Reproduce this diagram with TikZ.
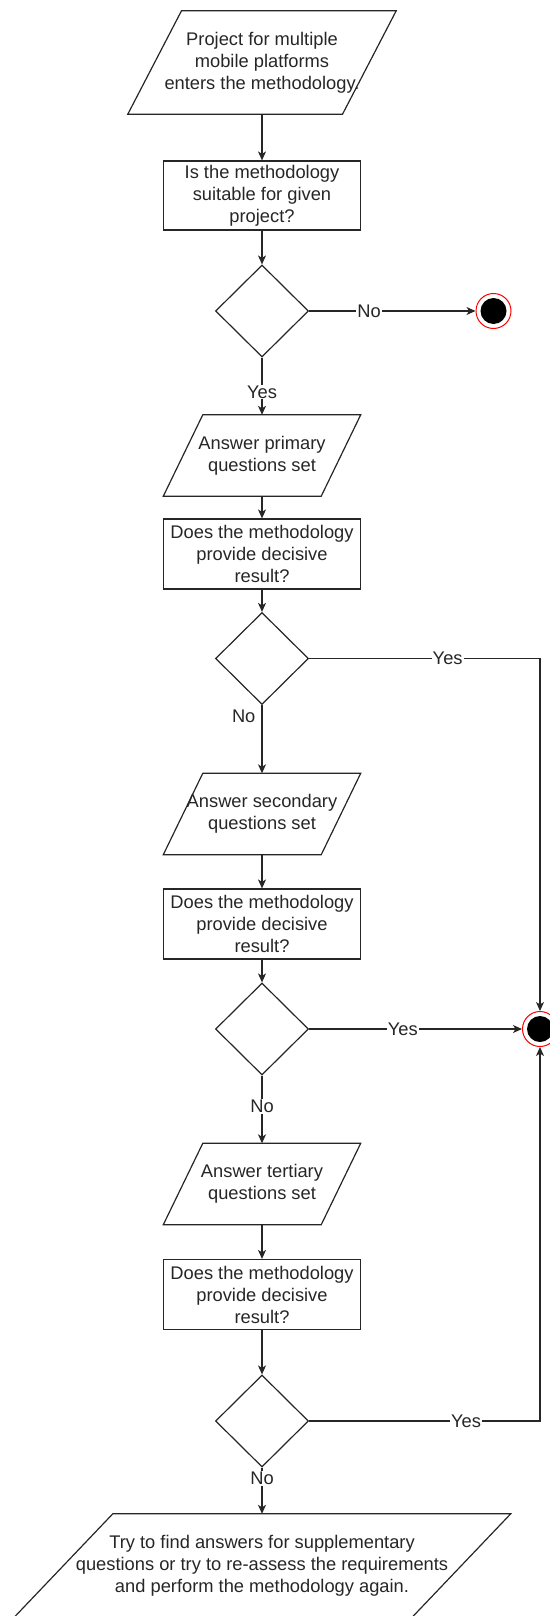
\documentclass[tikz,border=0pt]{standalone}
\usepackage{fontspec}
\setmainfont{Liberation Sans}
\usetikzlibrary{shapes.geometric,arrows.meta,calc}

\begin{document}
\begin{tikzpicture}[x=1pt,y=-1pt,font=\fontsize{18.3}{22}\selectfont]
		\tikzstyle{myline}=[black!85,line width=1.2pt]
		\tikzstyle{myarrow}=[myline,>={Stealth[length=9pt,width=8pt,inset=2.5pt]},->]
		\tikzstyle{io}=[shape=rectangle,inner sep=0pt,align=center,text=black!85]
		\tikzstyle{proc}=[draw,myline,shape=rectangle,minimum width=197pt,minimum height=70pt,inner sep=0pt,align=center]
		\tikzstyle{dec}=[draw,myline,shape=diamond,minimum width=93pt,minimum height=92pt,inner sep=0pt]
		\tikzstyle{endpt}=[draw=red,line width=1pt,fill=white,shape=circle,minimum size=35pt,inner sep=0pt,path picture={\fill[black] (path picture bounding box.center) circle (13pt);}]
		\tikzstyle{lbl}=[fill=white,inner sep=1pt,text=black!85]

		\useasboundingbox (0,0) rectangle (549,1616);

		\node[io,minimum width=268pt,minimum height=103pt] (p1) at (262,62.5) {Project for multiple\\mobile platforms\\enters the methodology.};
		\node[proc,minimum height=69pt] (r1) at (262,195.5) {Is the methodology\\suitable for given\\project?};
		\foreach \y / \z in {311/1,658.5/2,1029/3,1421/4} { \node[dec] (d\z) at (262,\y) {};}
		\foreach \y / \z / \t in {455.5/2/primary,814/3/secondary,1184/4/tertiary} { \node[io,minimum width=197pt,minimum height=81pt] (p\z) at (262,\y) {Answer \t\\questions set};}
		\foreach \y / \z in {554/2,924/3,1294.5/4} { \node[proc] (r\z) at (262,\y) {Does the methodology\\provide decisive\\result?};}
		\node[io,minimum width=497pt,minimum height=104pt] (p5) at (262,1566) {Try to find answers for supplementary\\questions or try to re-assess the requirements\\and perform the methodology again.};
		\node[endpt] (e1) at (493.5,311) {};
		\node[endpt] (e2) at (540,1029) {};

		% parallelogram outlines
		\foreach \io in {p1,p2,p3,p4,p5} {
			\draw[myline] let \p1=(\io.south west), \p2=(\io.north east), \n1={0.2*(\x2-\x1)} in
				(\x1,\y1) -- ({\x1+\n1*1pt},\y2) -- (\x2,\y2) -- ({\x2-\n1*1pt},\y1) -- cycle;
		}

		\draw[myarrow] (p1) -- (r1);
		\draw[myarrow] (r1) -- (d1);
		\foreach \z in {2,3,4} { \draw[myarrow] (p\z) -- (r\z); \draw[myarrow] (r\z) -- (d\z);}

		\draw[myarrow] (d1) -- node[lbl,pos=0.36] {No} (e1);
		\draw[myarrow] (d1) -- node[lbl,pos=0.6] {Yes} (p2);
		\draw[myarrow] (d2) -| node[lbl,pos=0.3] {Yes} (e2);
		\draw[myarrow] (d2) -- node[lbl,fill=none,pos=0.16,anchor=east,xshift=-5pt] {No} (p3);
		\draw[myarrow] (d3) -- node[lbl,pos=0.44] {Yes} (e2);
		\draw[myarrow] (d3) -- node[lbl,pos=0.46] {No} (p4);
		\draw[myarrow] (d4) -| node[lbl,pos=0.34] {Yes} (e2);
		\draw[myarrow] (d4) -- node[lbl,pos=0.23] {No} (p5);

	\end{tikzpicture}
\end{document}
